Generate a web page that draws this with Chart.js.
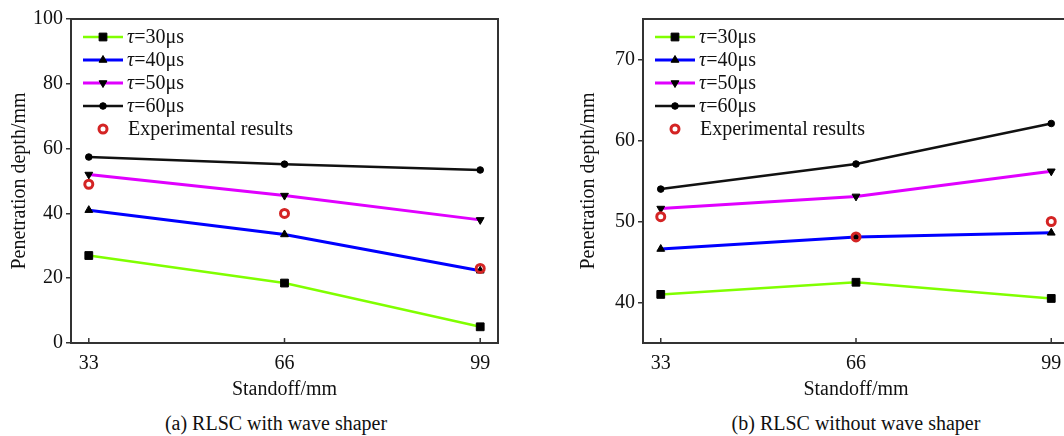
<!DOCTYPE html>
<html>
<head>
<meta charset="utf-8">
<script src="https://cdn.jsdelivr.net/npm/chart.js@4/dist/chart.umd.min.js"></script>
<style>
  html, body { margin: 0; padding: 0; background: #fff; width: 1064px; height: 436px; overflow: hidden; }
  .box { position: absolute; top: 0; height: 402px; }
  .cap { position: absolute; top: 411px; width: 400px; text-align: center; font: 20px "Liberation Serif", serif; line-height: 24px; color: #111; }
</style>
</head>
<body>
<div class="box" style="left:0;width:530px;"><canvas id="ca"></canvas></div>
<div class="box" style="left:540px;width:560px;"><canvas id="cb"></canvas></div>
<div class="cap" style="left:76px;">(a) RLSC with wave shaper</div>
<div class="cap" style="left:656px;">(b) RLSC without wave shaper</div>
<script>
// ---- data ----
const standoff = [33, 66, 99];
const xTicks = [33, 66, 99];
const tauNames = ['30', '40', '50', '60'];
const expName = 'Experimental results';

const a30 = [27.0, 18.5, 5.0];
const a40 = [41.0, 33.5, 22.3];
const a50 = [52.0, 45.5, 38.0];
const a60 = [57.4, 55.2, 53.4];
const aExp = [49.0, 40.0, 23.0];
const aYTicks = [0, 20, 40, 60, 80, 100];

const b30 = [41.0, 42.5, 40.5];
const b40 = [46.6, 48.1, 48.6];
const b50 = [51.6, 53.1, 56.2];
const b60 = [54.0, 57.1, 62.1];
const bExp = [50.6, 48.1, 50.0];
const bYTicks = [40, 50, 60, 70];

const FONT = '"Liberation Serif", "Times New Roman", serif';
const styles = [
  { color: '#80ff00', width: 2.5, pointStyle: 'rect', radius: 5.5, rotation: 0 },
  { color: '#0000ff', width: 3, pointStyle: 'triangle', radius: 4.5, rotation: 0 },
  { color: '#e000ff', width: 3, pointStyle: 'triangle', radius: 4.5, rotation: 180 },
  { color: '#111111', width: 2.5, pointStyle: 'circle', radius: 3.3, rotation: 0 }
];
const expStyle = { color: '#d42424', radius: 4, borderWidth: 3 };

function pts(vals) { return standoff.map((x, i) => ({ x: x, y: vals[i] })); }

function buildDatasets(series, exp) {
  const ds = series.map((vals, i) => ({
    label: 'τ=' + tauNames[i] + 'μs',
    data: pts(vals),
    borderColor: styles[i].color,
    borderWidth: styles[i].width,
    pointStyle: styles[i].pointStyle,
    pointRadius: styles[i].radius,
    pointRotation: styles[i].rotation,
    pointBackgroundColor: '#000',
    pointBorderColor: '#000',
    pointBorderWidth: 1,
    showLine: true,
    order: 1
  }));
  ds.push({
    label: expName,
    data: pts(exp),
    showLine: false,
    pointStyle: 'circle',
    pointRadius: expStyle.radius,
    pointBorderWidth: expStyle.borderWidth,
    pointBorderColor: expStyle.color,
    pointBackgroundColor: 'rgba(0,0,0,0)',
    borderColor: expStyle.color,
    order: 0
  });
  return ds;
}

function drawMarker(ctx, style, rotation, r, bw, x, y, fill, stroke) {
  ctx.save();
  ctx.fillStyle = fill; ctx.strokeStyle = stroke; ctx.lineWidth = bw;
  if (Chart.helpers && Chart.helpers.drawPoint) {
    Chart.helpers.drawPoint(ctx, { pointStyle: style, rotation: rotation, radius: r, borderWidth: bw }, x, y);
  } else {
    ctx.beginPath(); ctx.arc(x, y, r, 0, Math.PI * 2); ctx.fill(); ctx.stroke();
  }
  ctx.restore();
}

const framePlugin = {
  id: 'frameLegend',
  afterDraw(chart) {
    const ctx = chart.ctx;
    const a = chart.chartArea;
    ctx.save();
    // frame
    ctx.strokeStyle = '#333';
    ctx.lineWidth = 2;
    ctx.strokeRect(a.left, a.top, a.right - a.left, a.bottom - a.top);
    // inward x ticks
    const xs = chart.scales.x;
    ctx.lineWidth = 1.5;
    xTicks.forEach(v => {
      const px = xs.getPixelForValue(v);
      ctx.beginPath(); ctx.moveTo(px, a.bottom); ctx.lineTo(px, a.bottom - 5); ctx.stroke();
    });
    // legend
    const dsets = chart.data.datasets;
    const x0 = a.left + 12, x1 = a.left + 52, tx = a.left + 56;
    ctx.textBaseline = 'middle';
    ctx.textAlign = 'left';
    for (let i = 0; i < 4; i++) {
      const y = a.top + 18 + 23 * i;
      const d = dsets[i];
      ctx.strokeStyle = d.borderColor; ctx.lineWidth = d.borderWidth;
      ctx.beginPath(); ctx.moveTo(x0, y); ctx.lineTo(x1, y); ctx.stroke();
      drawMarker(ctx, d.pointStyle, d.pointRotation, d.pointRadius, 1, (x0 + x1) / 2, y, '#000', '#000');
      ctx.fillStyle = '#111';
      ctx.font = 'italic 20px ' + FONT;
      ctx.fillText('τ', tx, y + 1);
      const w = ctx.measureText('τ').width;
      ctx.font = '20px ' + FONT;
      ctx.fillText('=' + tauNames[i] + 'μs', tx + w, y + 1);
    }
    const ye = a.top + 18 + 23 * 4;
    drawMarker(ctx, 'circle', 0, expStyle.radius, expStyle.borderWidth, (x0 + x1) / 2, ye, 'rgba(0,0,0,0)', expStyle.color);
    ctx.fillStyle = '#111';
    ctx.font = '20px ' + FONT;
    ctx.fillText(expName, a.left + 57, ye + 1);
    ctx.restore();
  }
};

function makeChart(id, series, exp, yMin, yMax, yTicks, pad, yWidth) {
  return new Chart(document.getElementById(id), {
    type: 'scatter',
    data: { datasets: buildDatasets(series, exp) },
    options: {
      responsive: true,
      maintainAspectRatio: false,
      animation: false,
      events: [],
      layout: { padding: pad },
      plugins: { legend: { display: false }, tooltip: { enabled: false }, title: { display: false } },
      elements: { line: { tension: 0 } },
      scales: {
        x: {
          type: 'linear', min: 30, max: 102,
          afterBuildTicks: s => { s.ticks = xTicks.map(v => ({ value: v })); },
          afterFit: s => { s.height = 59; },
          grid: { display: false },
          border: { display: false },
          ticks: { padding: 1, color: '#111', font: { family: FONT, size: 20 }, callback: v => String(v), maxRotation: 0, autoSkip: false },
          title: { display: true, text: 'Standoff/mm', color: '#111', font: { family: FONT, size: 20 }, padding: { top: 0, bottom: 0 } }
        },
        y: {
          type: 'linear', min: yMin, max: yMax,
          afterBuildTicks: s => { s.ticks = yTicks.map(v => ({ value: v })); },
          afterFit: s => { s.width = yWidth; },
          grid: { display: true, drawOnChartArea: false, drawTicks: true, tickLength: 5, color: '#333', lineWidth: 1.5 },
          border: { display: false },
          ticks: { padding: 3, color: '#111', font: { family: FONT, size: 20 }, callback: v => String(v), autoSkip: false },
          title: { display: true, text: 'Penetration depth/mm', color: '#111', font: { family: FONT, size: 20 }, padding: { top: 0, bottom: 0 } }
        }
      }
    },
    plugins: [framePlugin]
  });
}

makeChart('ca', [a30, a40, a50, a60], aExp, 0, 100, aYTicks, { left: 8, right: 32, top: 19, bottom: 0 }, 63);
makeChart('cb', [b30, b40, b50, b60], bExp, 35, 75, bYTicks, { left: 37, right: 31, top: 19, bottom: 0 }, 66);
</script>
</body>
</html>
